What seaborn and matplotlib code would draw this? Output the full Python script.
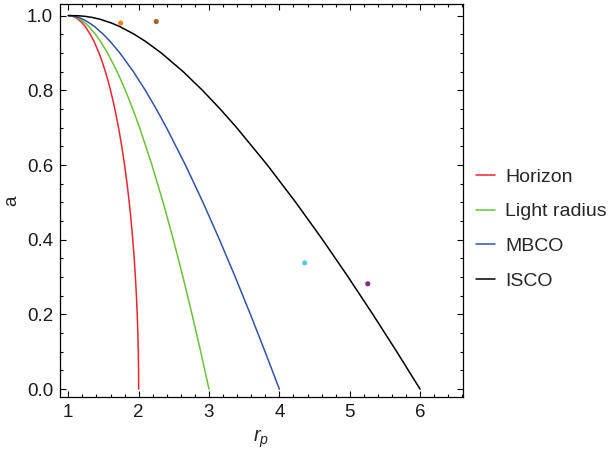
import matplotlib
matplotlib.use("Agg")
import matplotlib.pyplot as plt
from matplotlib.ticker import MultipleLocator, FormatStrFormatter
import pandas as pd
import seaborn as sns

# Spin parameter samples for the horizon curve (denser, it bends sharply)
spin_h = [0.0, 0.05, 0.1, 0.15, 0.2, 0.25, 0.3, 0.35, 0.4, 0.45, 0.5, 0.55,
          0.6, 0.65, 0.7, 0.75, 0.775, 0.8, 0.825, 0.85, 0.875, 0.9, 0.93,
          0.95, 0.97, 0.98, 0.99, 0.995, 0.998, 0.9995, 1.0]
r_horizon = [2.0, 1.9987, 1.9950, 1.9887, 1.9798, 1.9682, 1.9539, 1.9368,
             1.9165, 1.8930, 1.8660, 1.8352, 1.8000, 1.7599, 1.7141, 1.6614,
             1.6320, 1.6000, 1.5651, 1.5268, 1.4841, 1.4359, 1.3676, 1.3122,
             1.2431, 1.1990, 1.1411, 1.0999, 1.0632, 1.0316, 1.0]

# Spin parameter samples for the other curves
spin = [0.0, 0.1, 0.2, 0.3, 0.4, 0.5, 0.6, 0.7, 0.75, 0.8, 0.85, 0.9,
        0.93, 0.95, 0.97, 0.98, 0.99, 0.995, 0.998, 0.9995, 1.0]
r_light = [3.0, 2.8822, 2.7592, 2.6300, 2.4934, 2.3473, 2.1889, 2.0133,
           1.9165, 1.8111, 1.6938, 1.5579, 1.4612, 1.3863, 1.2957, 1.2395,
           1.1676, 1.1177, 1.0739, 1.0367, 1.0]
r_mbco = [4.0, 3.7974, 3.5889, 3.3733, 3.1492, 2.9142, 2.6649, 2.3954,
          2.2500, 2.0944, 1.9246, 1.7325, 1.5992, 1.4972, 1.3764, 1.3028,
          1.2100, 1.1464, 1.0914, 1.0452, 1.0]
r_isco = [6.0, 5.6693, 5.3294, 4.9786, 4.6143, 4.2330, 3.8290, 3.3931,
          3.1580, 2.9066, 2.6321, 2.3209, 2.1041, 1.9372, 1.7376, 1.6141,
          1.4545, 1.3409, 1.2370, 1.1404, 1.0]

curve_names = ["Horizon", "Light radius", "MBCO", "ISCO"]
curve_colors = ["#ec2530", "#6cc03a", "#3154a6", "#000000"]

# Individual sources
pt_r = [1.744, 2.25, 4.36, 5.257]
pt_a = [0.980, 0.984, 0.338, 0.282]
pt_colors = ["#f08424", "#a0642e", "#5ec8e0", "#8a2d82"]

frames = []
for name, radii, s in zip(curve_names, [r_horizon, r_light, r_mbco, r_isco],
                          [spin_h, spin, spin, spin]):
    frames.append(pd.DataFrame({"r": radii, "a": s, "curve": name}))
curves = pd.concat(frames, ignore_index=True)
points = pd.DataFrame({"r": pt_r, "a": pt_a, "src": list(range(len(pt_r)))})

sns.set_theme(style="white")
plt.rcParams["font.family"] = ["Liberation Sans", "DejaVu Sans"]
plt.rcParams["mathtext.fontset"] = "custom"
plt.rcParams["mathtext.it"] = "Liberation Sans:italic"
plt.rcParams["mathtext.rm"] = "Liberation Sans"

fig = plt.figure(figsize=(6.12, 4.61), dpi=100)
ax = fig.add_axes([60 / 612, 1 - 397 / 461, 403 / 612, 393 / 461])

sns.lineplot(data=curves, x="r", y="a", hue="curve", hue_order=curve_names,
             palette=curve_colors, sort=False, estimator=None, lw=1.1, ax=ax)
sns.scatterplot(data=points, x="r", y="a", hue="src", palette=pt_colors,
                s=14, edgecolor="none", legend=False, ax=ax)

ax.set_xlim(0.882, 6.61)
ax.set_ylim(-0.021, 1.031)
ax.xaxis.set_major_locator(MultipleLocator(1))
ax.xaxis.set_minor_locator(MultipleLocator(0.2))
ax.yaxis.set_major_locator(MultipleLocator(0.2))
ax.yaxis.set_minor_locator(MultipleLocator(0.05))
ax.yaxis.set_major_formatter(FormatStrFormatter("%.1f"))
ax.tick_params(which="both", direction="in", top=True, right=True,
               bottom=True, left=True, color="black", width=0.8,
               labelsize=13.5, labelcolor="#1a1a1a")
ax.tick_params(which="major", length=4, pad=5)
ax.tick_params(which="minor", length=2.2)
for sp in ax.spines.values():
    sp.set_color("black")
    sp.set_linewidth(0.9)

ax.set_xlabel(r"$r_p$", fontsize=14.5, labelpad=5)
ax.set_ylabel("a", fontsize=13.5, labelpad=5)

handles, labels = ax.get_legend_handles_labels()
ax.legend_.remove()
leg = fig.legend(handles, labels, loc="center left",
                 bbox_to_anchor=(476 / 612, 1 - 229 / 461), frameon=False,
                 fontsize=14, handlelength=0.98, handletextpad=0.52,
                 labelspacing=0.88, borderpad=0, borderaxespad=0)
for line in leg.get_lines():
    line.set_linewidth(1.1)

fig.savefig("out.png", dpi=100)
